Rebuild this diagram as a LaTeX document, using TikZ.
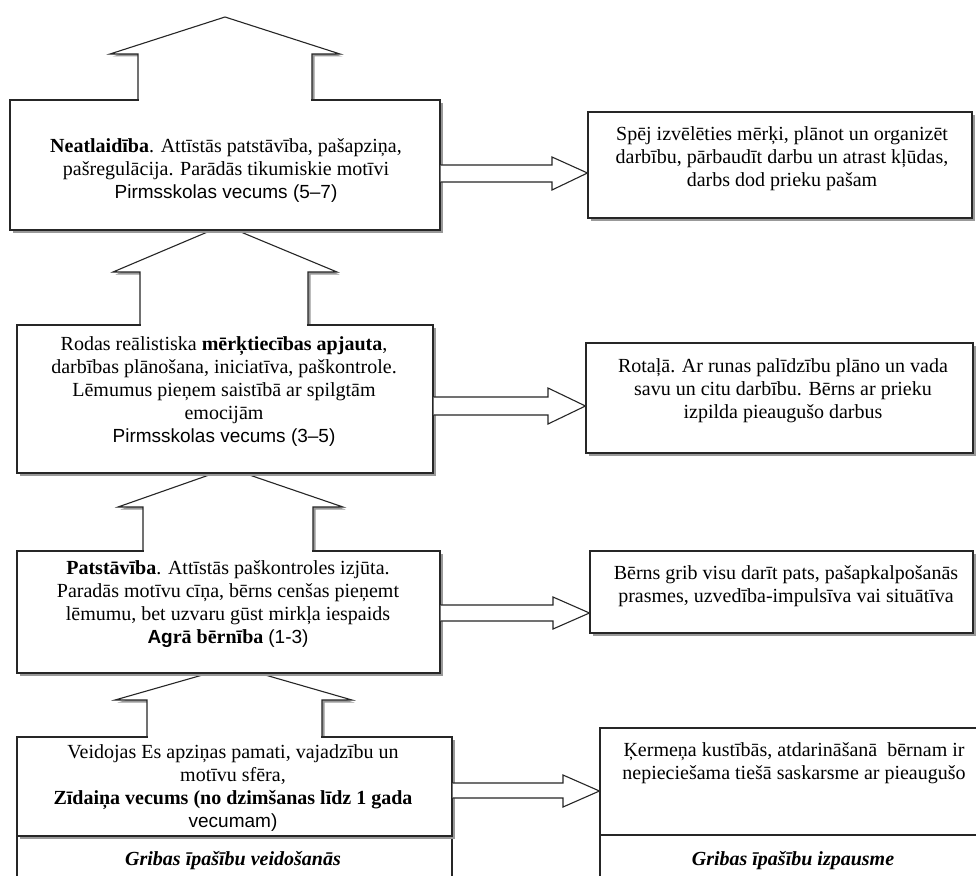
\documentclass[tikz,border=0pt]{standalone}
\usepackage{fontspec}
\setmainfont{Liberation Serif}
\setsansfont{Liberation Sans}
\usetikzlibrary{shadows}
\newcommand\sansage[1]{{\fontsize{19}{23}\selectfont\sffamily #1}}
\tikzset{
  ln/.style={draw=black!85, line width=1.1pt, line join=miter},
  shad/.style={drop shadow={shadow xshift=2.5pt, shadow yshift=-2.5pt, fill=black!40, opacity=1}},
  boxst/.style={ln, fill=white, shad, rectangle, inner sep=0pt},
  plainbox/.style={ln, fill=white, rectangle, inner sep=0pt},
  txt/.style={align=center, font=\fontsize{20}{23}\selectfont, inner sep=0pt},
  lbl/.style={align=center, font=\fontsize{20}{23}\selectfont\bfseries\itshape, inner sep=0pt},
  upshape/.style={ln, fill=white, shad},
  harrow/.style={ln, fill=white},
}
% #1 shaft left, #2 shaft right, #3 wing left, #4 wing right, #5 wing y, #6 apex x, #7 apex y, #8 base y
\newcommand\uparrowshape[8]{%
  \draw[upshape] (#1,#8) -- (#1,#5) -- (#3,#5) -- (#6,#7) -- (#4,#5) -- (#2,#5) -- (#2,#8) -- cycle;}
\newcommand\shaftpatch[3]{%
  \fill[white] (#1+0.7,#3-1.6) rectangle (#2-0.7,#3+1.6);}
\begin{document}
\begin{tikzpicture}[x=1pt, y=-1pt]
\clip (0,0) rectangle (976,875);
\fill[white] (0,0) rectangle (976,875);

% up arrows (drawn first, apexes hidden by boxes above)
\uparrowshape{138}{312}{110}{340}{54}{225}{17}{100}
\uparrowshape{140}{308}{113}{337}{272}{224}{225}{325}
\uparrowshape{143}{313}{118}{343}{507}{229}{468}{551}
\uparrowshape{147}{322}{115}{352}{700}{234}{666}{737}

% left boxes
\node[boxst, minimum width=430pt, minimum height=130pt] (L1) at (225,165) {};
\node[boxst, minimum width=416pt, minimum height=148pt] (L2) at (225,399) {};
\node[boxst, minimum width=423pt, minimum height=122pt] (L3) at (228.5,612) {};
\node[plainbox, minimum width=435pt, minimum height=70pt] (L5) at (234.5,871) {};
\node[boxst, minimum width=435pt, minimum height=99pt] (L4) at (234.5,786.5) {};

% right boxes
\node[boxst, minimum width=384pt, minimum height=106pt] (R1) at (780,165) {};
\node[boxst, minimum width=387pt, minimum height=110pt] (R2) at (779.5,398) {};
\node[boxst, minimum width=383pt, minimum height=82pt] (R3) at (781.5,592) {};
\node[plainbox, minimum width=400pt, minimum height=70pt] (R5) at (800,870) {};
\node[plainbox, minimum width=400pt, minimum height=107pt] (R4) at (800,781.5) {};

% merge shafts into boxes
\shaftpatch{138}{312}{100}
\shaftpatch{140}{308}{325}
\shaftpatch{143}{313}{551}
\shaftpatch{147}{322}{737}

% horizontal block arrows
\draw[harrow] (L1.east |- 0,165) -- (552,165) -- (552,157) -- (R1.west |- 0,173) -- (552,190) -- (552,182) -- (L1.east |- 0,182);
\draw[harrow] (L2.east |- 0,397) -- (548,397) -- (548,388) -- (R2.west |- 0,406) -- (548,424) -- (548,415) -- (L2.east |- 0,415);
\draw[harrow] (L3.east |- 0,605) -- (553,605) -- (553,597) -- (R3.west |- 0,613) -- (553,629) -- (553,621) -- (L3.east |- 0,621);
\draw[harrow] (L4.east |- 0,783) -- (563,783) -- (563,775) -- (R4.west |- 0,791) -- (563,807) -- (563,798) -- (L4.east |- 0,798);

% texts
\node[txt] (t1) at (226,171) {\textbf{Neatlaidība}. Attīstās patstāvība, pašapziņa,\\pašregulācija. Parādās tikumiskie motīvi\\\sansage{Pirmsskolas vecums (5–7)}};
\node[txt] (t2) at (224,392) {Rodas reālistiska \textbf{mērķtiecības apjauta},\\darbības plānošana, iniciatīva, paškontrole.\\Lēmumus pieņem saistībā ar spilgtām\\emocijām\\\sansage{Pirmsskolas vecums (3–5)}};
\node[txt] (t3) at (228,604) {\textbf{Patstāvība}. Attīstās paškontroles izjūta.\\Paradās motīvu cīņa, bērns cenšas pieņemt\\lēmumu, bet uzvaru gūst mirkļa iespaids\\\textbf{\sansage{Ag}rā bērnība} \sansage{(1-3)}};
\node[txt] (t4) at (233,788) {Veidojas Es apziņas pamati, vajadzību un\\motīvu sfēra,\\\textbf{Zīdaiņa vecums (no dzimšanas līdz 1 gada}\\\sansage{vecumam)}};
\node[txt] (r1) at (782,159) {Spēj izvēlēties mērķi, plānot un organizēt\\darbību, pārbaudīt darbu un atrast kļūdas,\\darbs dod prieku pašam};
\node[txt] (r2) at (783,391) {Rotaļā. Ar runas palīdzību plāno un vada\\savu un citu darbību. Bērns ar prieku\\izpilda pieaugušo darbus};
\node[txt] (r3) at (786,586) {Bērns grib visu darīt pats, pašapkalpošanās\\prasmes, uzvedība-impulsīva vai situātīva};
\node[txt] (r4) at (794,763) {Ķermeņa kustībās, atdarināšanā\ \ bērnam ir\\nepieciešama tiešā saskarsme ar pieaugušo};
\node[lbl] (lb1) at (233,861) {Gribas īpašību veidošanās};
\node[lbl] (lb2) at (793,861) {Gribas īpašību izpausme};
\end{tikzpicture}
\end{document}
